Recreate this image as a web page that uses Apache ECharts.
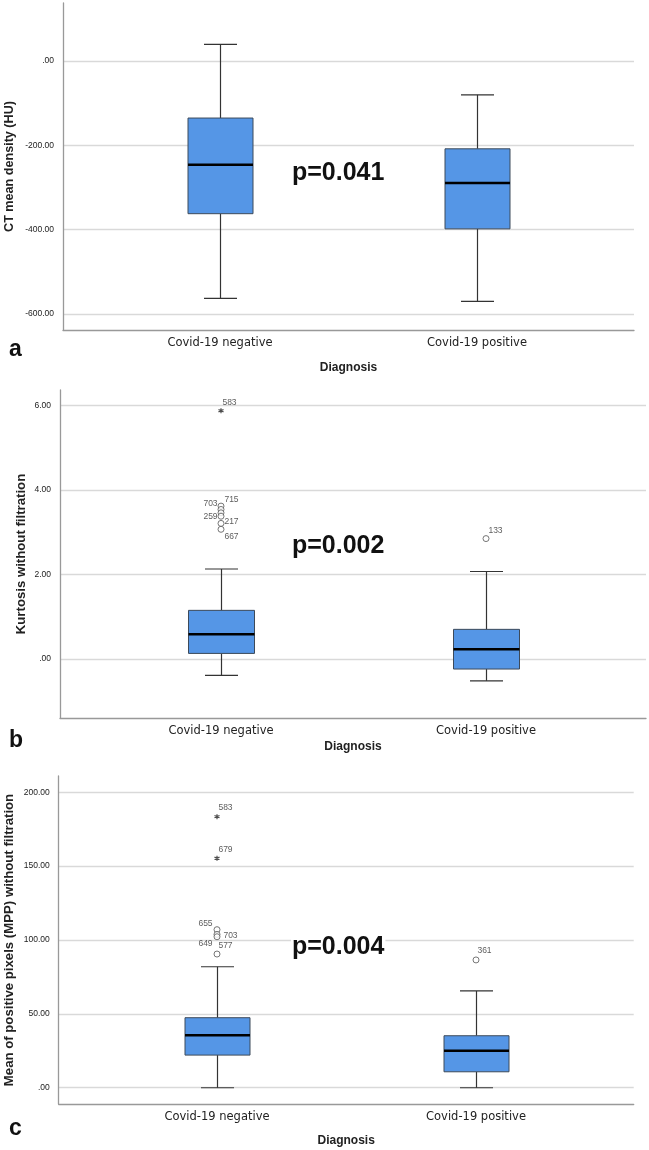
<!DOCTYPE html>
<html>
<head>
<meta charset="utf-8">
<script src="https://cdn.jsdelivr.net/npm/echarts@6/dist/echarts.min.js"></script>
<style>
  html, body { margin: 0; padding: 0; background: #fff; }
  #chart { width: 649px; height: 1150px; }
</style>
</head>
<body>
<div id="chart"></div>
<script>
// 分组
const categories = ['Covid-19 negative', 'Covid-19 positive'];

// 箱线图数据: [下须, Q1, 中位数, Q3, 上须]
const densityBoxes = [[-563, -362, -246, -135, 40], [-570, -398, -289, -208, -80]];
const kurtosisBoxes = [[-0.39, 0.13, 0.585, 1.15, 2.13], [-0.52, -0.24, 0.23, 0.70, 2.07]];
const mppBoxes = [[0, 22.1, 35.5, 47.4, 81.9], [0, 10.8, 25.0, 35.2, 65.5]];

// 离群点: [分组, 值, 病例号, 类型(o=圆圈, x=星号)]
const densityOutliers = [];
const kurtosisOutliers = [
  [0, 5.88, '583', 'x'],
  [0, 3.62, '715', 'o'],
  [0, 3.54, '703', 'o'],
  [0, 3.46, '', 'o'],
  [0, 3.38, '259', 'o'],
  [0, 3.21, '217', 'o'],
  [0, 3.07, '667', 'o'],
  [1, 2.85, '133', 'o']
];
const mppOutliers = [
  [0, 183.5, '583', 'x'],
  [0, 155.3, '679', 'x'],
  [0, 107.0, '655', 'o'],
  [0, 103.8, '703', 'o'],
  [0, 102.2, '577', 'o'],
  [0, 90.5, '649', 'o'],
  [1, 86.5, '361', 'o']
];

// p 值
const pValues = ['p=0.041', 'p=0.002', 'p=0.004'];
const yTitles = ['CT mean density (HU)', 'Kurtosis without filtration', 'Mean of positive pixels (MPP) without filtration'];
const panelLetters = ['a', 'b', 'c'];

// 版面布局(像素)
const panels = [
  { boxes: densityBoxes, outliers: densityOutliers, top: 3, height: 327, left: 63, width: 571,
    innerLeft: 91.5, innerWidth: 514, min: -638, max: 138, nameGap: 47, diagGap: 32,
    titleSize: 12.6, boxW: 65, pY: 180, letterY: 360 },
  { boxes: kurtosisBoxes, outliers: kurtosisOutliers, top: 390, height: 328, left: 60, width: 586,
    innerLeft: 88.5, innerWidth: 530, min: -1.4, max: 6.37, nameGap: 32, diagGap: 23,
    titleSize: 13.2, boxW: 66, pY: 553, letterY: 751 },
  { boxes: mppBoxes, outliers: mppOutliers, top: 776, height: 328, left: 58.7, width: 575,
    innerLeft: 87.5, innerWidth: 518, min: -11, max: 211, nameGap: 43, diagGap: 31,
    titleSize: 13.2, boxW: 65, pY: 954, letterY: 1139 }
];

// 离群点标签偏移
const labelOffset = {
  '1-583': [8.5, -8.5], '1-715': [10.5, -6], '1-703': [-10.5, -5.5], '1-259': [-10.5, 0.5],
  '1-217': [10.5, -2], '1-667': [10.5, 7.5], '1-133': [9.5, -8],
  '2-583': [8.5, -9], '2-679': [8.5, -9], '2-655': [-11.5, -6], '2-703': [13.5, 1],
  '2-577': [8.5, 8.5], '2-649': [-11.5, -10.7], '2-361': [8.5, -9]
};

const STAR = 'path://M5,0L5,10M0.5,2.6L9.5,7.4M0.5,7.4L9.5,2.6';
const FONT = 'Liberation Sans';

// y轴刻度格式 .00 / -200.00
function fmt(v) {
  let s = Math.abs(v).toFixed(2);
  if (s.indexOf('0.') === 0) s = s.slice(1);
  return (v < 0 ? '-' : '') + s;
}

function renderBox(params, api) {
  const x = api.value(0);
  const pLow = api.coord([x, api.value(1)]);
  const pQ1 = api.coord([x, api.value(2)]);
  const pMed = api.coord([x, api.value(3)]);
  const pQ3 = api.coord([x, api.value(4)]);
  const pHigh = api.coord([x, api.value(5)]);
  const bw = panels[params.seriesIndex / 2 | 0].boxW;
  const cx = Math.round(pMed[0]) + 0.5;
  const half = bw / 2, cap = 16.5;
  const wStyle = { stroke: '#333', lineWidth: 1.2 };
  return {
    type: 'group',
    children: [
      { type: 'line', shape: { x1: cx, y1: pHigh[1], x2: cx, y2: pQ3[1] }, style: wStyle },
      { type: 'line', shape: { x1: cx, y1: pQ1[1], x2: cx, y2: pLow[1] }, style: wStyle },
      { type: 'line', shape: { x1: cx - cap, y1: pHigh[1], x2: cx + cap, y2: pHigh[1] }, style: wStyle },
      { type: 'line', shape: { x1: cx - cap, y1: pLow[1], x2: cx + cap, y2: pLow[1] }, style: wStyle },
      { type: 'rect', shape: { x: cx - half, y: pQ3[1], width: bw, height: pQ1[1] - pQ3[1] },
        style: { fill: '#5596e6', stroke: '#3d4a5a', lineWidth: 1 } },
      { type: 'line', shape: { x1: cx - half, y1: pMed[1], x2: cx + half, y2: pMed[1] },
        style: { stroke: '#000', lineWidth: 2.5 } }
    ]
  };
}

const grid = [], xAxis = [], yAxis = [], series = [], graphic = [];

panels.forEach(function (p, i) {
  const outer = i * 2, inner = i * 2 + 1;
  grid.push({ left: p.left, top: p.top, width: p.width, height: p.height, outerBoundsMode: 'none' });
  grid.push({ left: p.innerLeft, top: p.top, width: p.innerWidth, height: p.height, outerBoundsMode: 'none' });

  xAxis.push({
    type: 'value', gridIndex: outer, min: 0, max: 1,
    axisLine: { show: true, onZero: false, lineStyle: { color: '#999', width: 1.3 } },
    axisTick: { show: false }, axisLabel: { show: false }, splitLine: { show: false },
    name: 'Diagnosis', nameLocation: 'middle', nameGap: p.diagGap, nameMoveOverlap: false,
    nameTextStyle: { fontFamily: FONT, fontWeight: 'bold', fontSize: 12, color: '#222' }
  });
  xAxis.push({
    type: 'category', gridIndex: inner, data: categories,
    axisLine: { show: false, onZero: false }, axisTick: { show: false },
    axisLabel: { fontFamily: 'DejaVu Sans', fontSize: 11.5, color: '#222', margin: 7 }
  });
  yAxis.push({
    type: 'value', gridIndex: outer, min: p.min, max: p.max,
    axisLine: { show: true, onZero: false, lineStyle: { color: '#999', width: 1.3 } },
    axisTick: { show: false },
    axisLabel: { formatter: fmt, fontFamily: FONT, fontSize: 8.5, color: '#222', margin: 9,
      showMinLabel: false, showMaxLabel: false },
    splitLine: { show: true, showMinLine: false, showMaxLine: false,
      lineStyle: { color: '#d9d9d9', width: 1.3 } },
    name: yTitles[i], nameLocation: 'middle', nameGap: p.nameGap, nameMoveOverlap: false,
    nameTextStyle: { fontFamily: FONT, fontWeight: 'bold', fontSize: p.titleSize, color: '#222' }
  });
  yAxis.push({ type: 'value', gridIndex: inner, min: p.min, max: p.max, show: false });

  series.push({
    type: 'custom', xAxisIndex: inner, yAxisIndex: inner,
    renderItem: renderBox,
    encode: { x: 0, y: [1, 2, 3, 4, 5] },
    data: p.boxes.map(function (b, k) { return [k].concat(b); }),
    z: 3
  });
  series.push({
    type: 'scatter', xAxisIndex: inner, yAxisIndex: inner, z: 4,
    data: p.outliers.map(function (o) {
      const off = labelOffset[i + '-' + o[2]] || [0, 0];
      const star = o[3] === 'x';
      return {
        value: [o[0], o[1]], name: o[2],
        symbol: star ? STAR : 'circle',
        symbolSize: star ? 5 : 6,
        itemStyle: star
          ? { color: '#222', borderColor: '#222', borderWidth: 1.2 }
          : { color: '#fff', borderColor: '#555', borderWidth: 1 },
        label: { show: o[2] !== '', position: 'inside', offset: off, formatter: '{b}',
          fontFamily: FONT, fontSize: 8.5, color: '#333' }
      };
    })
  });

  graphic.push({
    type: 'text', left: 291, top: p.pY - 19, z: 10,
    style: { text: pValues[i], font: 'bold 25px "Liberation Sans"', fill: '#111',
      backgroundColor: '#fff', padding: [0, 1] }
  });
  graphic.push({
    type: 'text', left: 9, top: p.letterY - 22,
    style: { text: panelLetters[i], font: 'bold 23px "Liberation Sans"', fill: '#111' }
  });
});

const chart = echarts.init(document.getElementById('chart'), null, { renderer: 'canvas' });
chart.setOption({
  animation: false,
  grid: grid,
  xAxis: xAxis,
  yAxis: yAxis,
  series: series,
  graphic: graphic
});
</script>
</body>
</html>
